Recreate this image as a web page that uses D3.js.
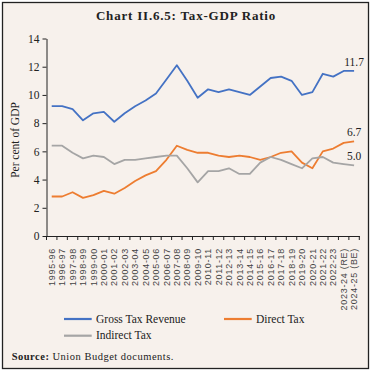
<!DOCTYPE html>
<html>
<head>
<meta charset="utf-8">
<script src="https://cdn.jsdelivr.net/npm/d3@7"></script>
<style>
  body { margin: 0; background: #fff; }
  svg { display: block; }
</style>
</head>
<body>
<svg width="372" height="374"></svg>
<script>
var years = ["1995-96", "1996-97", "1997-98", "1998-99", "1999-00", "2000-01", "2001-02", "2002-03",
    "2003-04", "2004-05", "2005-06", "2006-07", "2007-08", "2008-09", "2009-10", "2010-11", "2011-12",
    "2012-13", "2013-14", "2014-15", "2015-16", "2016-17", "2017-18", "2018-19", "2019-20", "2020-21",
    "2021-22", "2022-23", "2023-24 (RE)", "2024-25 (BE)"];

var grossTax = [9.2, 9.2, 9.0, 8.2, 8.7, 8.8, 8.1, 8.7, 9.2, 9.6, 10.1, 11.1, 12.1, 11.0, 9.8,
    10.4, 10.2, 10.4, 10.2, 10.0, 10.6, 11.2, 11.3, 11.0, 10.0, 10.2, 11.5, 11.3, 11.7, 11.7];
var directTax = [2.8, 2.8, 3.1, 2.7, 2.9, 3.2, 3.0, 3.4, 3.9, 4.3, 4.6, 5.4, 6.4, 6.1, 5.9,
    5.9, 5.7, 5.6, 5.7, 5.6, 5.4, 5.6, 5.9, 6.0, 5.2, 4.8, 6.0, 6.2, 6.6, 6.7];
var indirectTax = [6.4, 6.4, 5.9, 5.5, 5.7, 5.6, 5.1, 5.4, 5.4, 5.5, 5.6, 5.7, 5.7, 4.8, 3.8,
    4.6, 4.6, 4.8, 4.4, 4.4, 5.2, 5.6, 5.4, 5.1, 4.8, 5.5, 5.6, 5.2, 5.1, 5.0];

var seriesNames = ["Gross Tax Revenue", "Direct Tax", "Indirect Tax"];
var seriesColors = ["#4472c4", "#ed7d31", "#a5a5a5"];
var endLabels = ["11.7", "6.7", "5.0"];
var yTicks = [0, 2, 4, 6, 8, 10, 12, 14];

var svg = d3.select("svg");
var serif = "'Liberation Serif', 'Times New Roman', serif";

// panel
svg.append("rect")
    .attr("x", 2.5).attr("y", 2.5)
    .attr("width", 366).attr("height", 366)
    .attr("fill", "#f7f1ec")
    .attr("stroke", "#222")
    .attr("stroke-width", 1.3);

svg.append("text")
    .attr("x", 186).attr("y", 20)
    .attr("text-anchor", "middle")
    .attr("font-family", serif)
    .attr("font-weight", "bold")
    .attr("font-size", 13)
    .attr("letter-spacing", 0.8)
    .attr("fill", "#222")
    .text("Chart II.6.5: Tax-GDP Ratio");

var x = d3.scaleBand()
    .domain(years)
    .range([46.5, 359.3]);

var y = d3.scaleLinear()
    .domain([0, 14])
    .range([236, 38.5]);

// y axis
var yAxis = svg.append("g")
    .attr("transform", "translate(46.5,0)")
    .call(d3.axisLeft(y).tickValues(yTicks).tickSize(4).tickSizeOuter(0).tickPadding(3));
yAxis.selectAll("path, line").attr("stroke", "#222");
yAxis.selectAll("text")
    .attr("font-family", serif)
    .attr("font-size", 11.5)
    .attr("fill", "#222");

svg.append("text")
    .attr("transform", "translate(19,140) rotate(-90)")
    .attr("text-anchor", "middle")
    .attr("font-family", serif)
    .attr("font-size", 11.5)
    .attr("fill", "#222")
    .text("Per cent of GDP");

// x axis: labels at band centres, ticks at band edges
var xAxis = svg.append("g")
    .attr("transform", "translate(0,236)")
    .call(d3.axisBottom(x).tickSize(0).tickSizeOuter(0).tickPadding(0));
xAxis.select(".domain").attr("stroke", "#222");
xAxis.selectAll("text")
    .attr("transform", "rotate(-90)")
    .attr("x", -12)
    .attr("y", 0)
    .attr("dy", "0.35em")
    .attr("text-anchor", "end")
    .attr("font-family", "'Liberation Sans', Arial, sans-serif")
    .attr("font-size", 9)
    .attr("letter-spacing", 0.7)
    .attr("fill", "#444");

xAxis.selectAll(".edge")
    .data(years.concat(["end"]))
    .enter().append("line")
    .attr("class", "edge")
    .attr("x1", function(d) { return d === "end" ? x.range()[1] : x(d); })
    .attr("x2", function(d) { return d === "end" ? x.range()[1] : x(d); })
    .attr("y1", 0)
    .attr("y2", 4)
    .attr("stroke", "#222");

// lines
var allSeries = [grossTax, directTax, indirectTax];
var line = d3.line()
    .x(function(d, i) { return x(years[i]) + x.bandwidth() / 2; })
    .y(function(d) { return y(d); });

svg.selectAll(".series")
    .data(allSeries)
    .enter().append("path")
    .attr("class", "series")
    .attr("d", line)
    .attr("fill", "none")
    .attr("stroke", function(d, i) { return seriesColors[i]; })
    .attr("stroke-width", 1.8)
    .attr("stroke-linejoin", "round");

svg.selectAll(".endlabel")
    .data(allSeries)
    .enter().append("text")
    .attr("class", "endlabel")
    .attr("x", x(years[years.length - 1]) + x.bandwidth() / 2)
    .attr("y", function(d) { return y(d[d.length - 1]) - 5; })
    .attr("text-anchor", "middle")
    .attr("font-family", serif)
    .attr("font-size", 11.5)
    .attr("fill", "#222")
    .text(function(d, i) { return endLabels[i]; });

// legend
var legend = svg.selectAll(".legend")
    .data(seriesNames)
    .enter().append("g")
    .attr("class", "legend")
    .attr("transform", function(d, i) {
        return "translate(" + (64 + (i % 2) * 160) + "," + (319 + Math.floor(i / 2) * 16.7) + ")";
    });

legend.append("line")
    .attr("x1", 0).attr("x2", 27.7)
    .attr("y1", 0).attr("y2", 0)
    .attr("stroke", function(d, i) { return seriesColors[i]; })
    .attr("stroke-width", 2.2);

legend.append("text")
    .attr("x", 32)
    .attr("y", 3.5)
    .attr("font-family", serif)
    .attr("font-size", 11.5)
    .attr("fill", "#222")
    .text(function(d) { return d; });

var source = svg.append("text")
    .attr("x", 11.7).attr("y", 360)
    .attr("font-family", serif)
    .attr("font-size", 10.5)
    .attr("letter-spacing", 0.5)
    .attr("fill", "#222");
source.append("tspan").attr("font-weight", "bold").text("Source:");
source.append("tspan").text(" Union Budget documents.");
</script>
</body>
</html>
